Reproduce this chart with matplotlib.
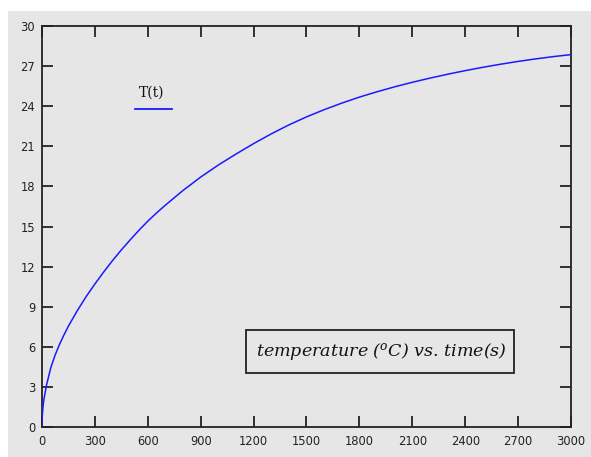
import numpy as np
import matplotlib
matplotlib.use("Agg")
import matplotlib.pyplot as plt
from matplotlib.patches import Rectangle

plt.rcParams["mathtext.fontset"] = "dejavuserif"

# time (s) and temperature (degC)
time_s = [0, 2, 5, 10, 25, 50, 75, 100, 125, 150, 200, 250, 300, 350, 400,
          450, 500, 550, 600, 650, 700, 800, 900, 1000, 1100, 1200, 1300,
          1400, 1500, 1600, 1700, 1800, 1900, 2000, 2100, 2200, 2300, 2400,
          2500, 2600, 2700, 2800, 2900, 3000]
temp_c = [0, 0.9, 1.4, 2.0, 3.1, 4.45, 5.4, 6.2, 6.9, 7.55, 8.7, 9.75, 10.7,
          11.6, 12.45, 13.25, 14.0, 14.72, 15.4, 16.02, 16.6, 17.7, 18.7,
          19.6, 20.42, 21.2, 21.93, 22.6, 23.2, 23.74, 24.23, 24.68, 25.08,
          25.45, 25.79, 26.1, 26.39, 26.66, 26.91, 27.14, 27.35, 27.54,
          27.71, 27.86]

x_ticks = list(range(0, 3001, 300))
y_ticks = list(range(0, 31, 3))

bg = "#e6e6e6"
ink = "#222222"

fig = plt.figure(figsize=(5.91, 4.57), dpi=100)
fig.patch.set_facecolor("white")
# grey panel behind everything (white margin on the left and top)
fig.add_artist(Rectangle((8 / 591, 0), 1 - 8 / 591, 1 - 11 / 457,
                         transform=fig.transFigure, facecolor=bg,
                         edgecolor="none", zorder=-5))

ax = fig.add_axes([42 / 591, 30 / 457, 529 / 591, 401 / 457])
ax.set_zorder(2)
ax.set_facecolor(bg)

ax.plot(time_s, temp_c, color="#1a1aff", lw=1.1, zorder=3)

ax.set_xlim(0, 3000)
ax.set_ylim(0, 30)
ax.set_xticks(x_ticks)
ax.set_yticks(y_ticks)

for s in ax.spines.values():
    s.set_color(ink)
    s.set_linewidth(1.3)

ax.tick_params(direction="in", length=8, width=1.3, color=ink,
               top=True, right=True, labelcolor="#222222")
ax.tick_params(axis="x", pad=6)
ax.tick_params(axis="y", pad=5)
for lab in ax.get_xticklabels() + ax.get_yticklabels():
    lab.set_family("DejaVu Sans")
    lab.set_fontsize(8.3)

# legend: label above a short line sample
ax.text(0.207, 0.823, "T(t)", transform=ax.transAxes, ha="center",
        va="baseline", fontsize=10, family="DejaVu Serif", color="#111111")
ax.plot([0.1758, 0.2457], [0.794, 0.794], transform=ax.transAxes,
        color="#1a1aff", lw=1.3, clip_on=False)

# boxed caption
ax.add_patch(Rectangle((0.3856, 0.1347), 0.5066, 0.1072,
                       transform=ax.transAxes, facecolor="none",
                       edgecolor=ink, lw=1.3, zorder=4))
ax.text(0.6418, 0.186, r"temperature ($\mathit{^{o}}$C) vs. time(s)",
        transform=ax.transAxes, ha="center", va="center", fontsize=12.6,
        style="italic", family="DejaVu Serif", color="#111111", zorder=5)

fig.savefig("out.png", dpi=100, facecolor=fig.get_facecolor())
